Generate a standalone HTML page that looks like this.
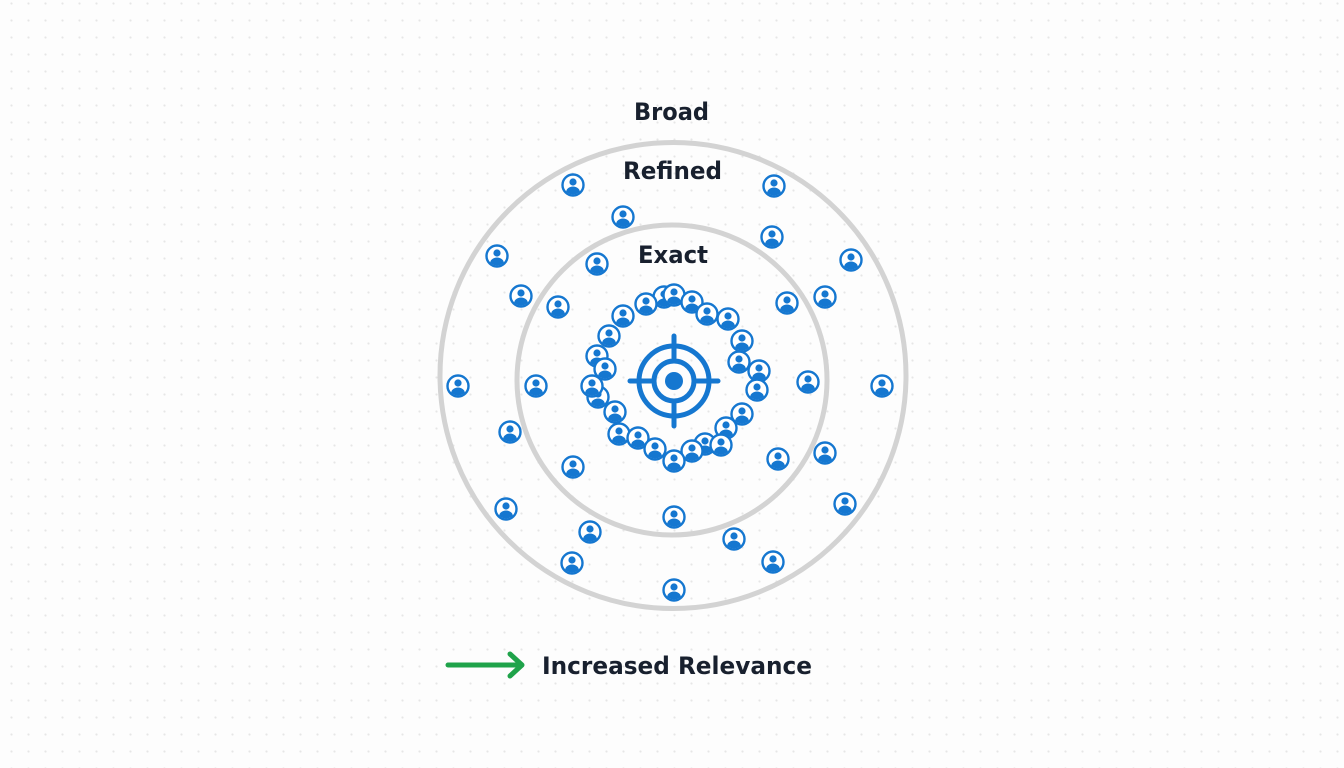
<!DOCTYPE html>
<html><head><meta charset="utf-8"><style>
html,body{margin:0;padding:0;width:1344px;height:768px;overflow:hidden;background:#fdfdfd;
background-image:radial-gradient(circle,#e6e6e6 0.9px,transparent 1.3px);background-size:17px 17px;background-position:3px -5px;}
svg{position:absolute;left:0;top:0}
text{font-family:"DejaVu Sans","Liberation Sans",sans-serif;font-weight:bold;fill:#18202e}
</style></head><body>
<svg width="1344" height="768" viewBox="0 0 1344 768">
<defs>
<clipPath id="c"><circle r="9.5"/></clipPath>
<g id="u">
<circle r="10.5" fill="#fff" stroke="#1577d0" stroke-width="2.4"/>
<circle cx="0" cy="-3" r="3.6" fill="#1577d0"/>
<g clip-path="url(#c)"><ellipse cx="0" cy="7.5" rx="7" ry="6" fill="#1577d0"/></g>
</g>
</defs>
<circle cx="673" cy="375.5" r="233" fill="none" stroke="#d3d3d3" stroke-width="5"/>
<circle cx="672" cy="380" r="155" fill="none" stroke="#d3d3d3" stroke-width="5"/>
<text x="634" y="120" font-size="24" textLength="75" lengthAdjust="spacingAndGlyphs">Broad</text>
<text x="623" y="179" font-size="24" textLength="99" lengthAdjust="spacingAndGlyphs">Refined</text>
<text x="638" y="263" font-size="24" textLength="70" lengthAdjust="spacingAndGlyphs">Exact</text>
<g fill="none" stroke="#1577d0" stroke-width="5">
<circle cx="674" cy="381" r="35"/>
<circle cx="674" cy="381" r="20"/>
</g>
<circle cx="674" cy="381" r="9" fill="#1577d0"/>
<g stroke="#1577d0" stroke-width="5" stroke-linecap="round">
<line x1="674" y1="336" x2="674" y2="358"/><line x1="674" y1="404" x2="674" y2="426"/>
<line x1="630" y1="381" x2="651" y2="381"/><line x1="697" y1="381" x2="718" y2="381"/>
</g>
<g>
<use href="#u" x="573" y="185"/><use href="#u" x="774" y="186"/><use href="#u" x="623" y="217"/><use href="#u" x="772" y="237"/>
<use href="#u" x="497" y="256"/><use href="#u" x="851" y="260"/><use href="#u" x="521" y="296"/><use href="#u" x="825" y="297"/>
<use href="#u" x="458" y="386"/><use href="#u" x="882" y="386"/><use href="#u" x="510" y="432"/><use href="#u" x="825" y="453"/>
<use href="#u" x="506" y="509"/><use href="#u" x="845" y="504"/><use href="#u" x="590" y="532"/><use href="#u" x="734" y="539"/>
<use href="#u" x="572" y="563"/><use href="#u" x="773" y="562"/><use href="#u" x="674" y="590"/>
<use href="#u" x="597" y="264"/><use href="#u" x="558" y="307"/><use href="#u" x="787" y="303"/><use href="#u" x="536" y="386"/>
<use href="#u" x="808" y="382"/><use href="#u" x="573" y="467"/><use href="#u" x="778" y="459"/><use href="#u" x="674" y="517"/>
<use href="#u" x="664" y="297"/><use href="#u" x="674" y="295"/><use href="#u" x="646" y="304"/><use href="#u" x="623" y="316"/>
<use href="#u" x="692" y="302"/><use href="#u" x="707" y="314"/><use href="#u" x="728" y="319"/><use href="#u" x="609" y="336"/>
<use href="#u" x="742" y="341"/><use href="#u" x="597" y="356"/><use href="#u" x="739" y="362"/><use href="#u" x="759" y="371"/>
<use href="#u" x="605" y="369"/><use href="#u" x="598" y="397"/><use href="#u" x="592" y="386"/><use href="#u" x="757" y="390"/>
<use href="#u" x="615" y="412"/><use href="#u" x="742" y="414"/><use href="#u" x="619" y="434"/><use href="#u" x="726" y="428"/>
<use href="#u" x="638" y="438"/><use href="#u" x="655" y="449"/><use href="#u" x="705" y="444"/><use href="#u" x="721" y="445"/>
<use href="#u" x="692" y="451"/><use href="#u" x="674" y="461"/>
</g>
<g stroke="#1fa34a" stroke-width="5" stroke-linecap="round" stroke-linejoin="round" fill="none">
<line x1="448" y1="665" x2="520" y2="665"/><polyline points="510,654 522,665 510,676"/>
</g>
<text x="542" y="674" font-size="24" textLength="270" lengthAdjust="spacingAndGlyphs">Increased Relevance</text>
</svg>
</body></html>
